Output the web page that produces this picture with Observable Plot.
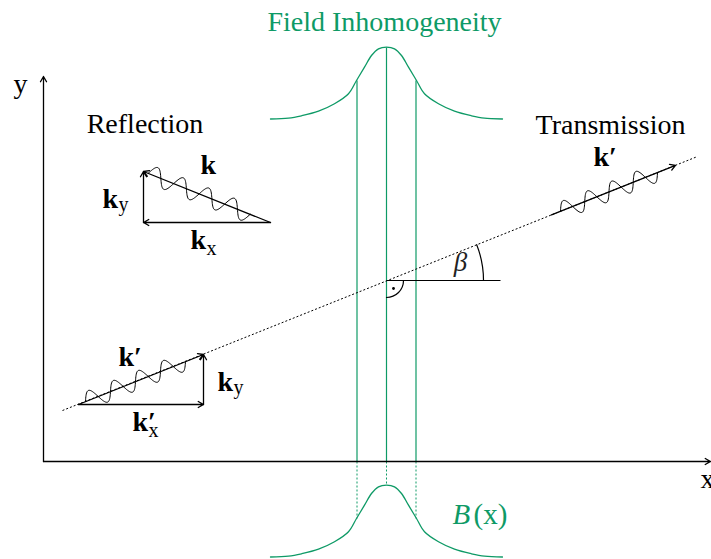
<!DOCTYPE html>
<html><head><meta charset="utf-8">
<script src="https://cdn.jsdelivr.net/npm/d3@7"></script>
<script src="https://cdn.jsdelivr.net/npm/@observablehq/plot@0.6"></script>
<style>body{margin:0;background:#fff}</style>
</head><body><div id="chart"></div>
<script>
const GREEN = "#0e9a66";
// Diagram coordinates: origin at the axis crossing, y up (units ≈ px)

// Straight black arrows: axes, reflection triangle, incidence triangle, transmitted k'
const arrowX1 = [0, 0, 227, 227, 100, 35, 35, 160, 508];
const arrowY1 = [0, 0, 239, 239, 239, 57, 57, 57, 246.6];
const arrowX2 = [667, 0, 100, 100, 100, 160, 160, 160, 632];
const arrowY2 = [0, 385, 290, 239, 290, 107, 57, 107, 296.2];

// Dotted propagation line
const rayX = [19, 654];
const rayY = [51, 305];

// Horizontal reference at the vertex
const vertex = [343, 181];
const horizX = [343, 457];

// Angle arcs: beta arc and right-angle arc (start, end, bend in degrees)
const betaArc = {x1: 433.2, y1: 216.8, x2: 440, y2: 181};
const betaBend = 10.8;
const rightArc = {x1: 360, y1: 181, x2: 343, y2: 164};
const rightBend = 45;

// Wave packets along the k vectors: start, end, periods, amplitude
const waveX1 = [104.6, 42, 517];
const waveY1 = [288.1, 60.2, 250.2];
const waveX2 = [206.7, 142, 614];
const waveY2 = [247.2, 100.2, 289];
const wavePeriods = [4, 4, 4];
const waveAmp = [9, 9, 9];

// Field profile B(x) (offset from centre, height)
const profileDx = [-116,-98,-85,-68,-52,-38,-30,-22,-15,-8,0,8,15,22,30,38,52,68,85,98,116];
const profileH  = [0,0.8,3.2,7.8,15.2,25.2,38.5,51.8,63.5,70.2,71.8,70.2,63.5,51.8,38.5,25.2,15.2,7.8,3.2,0.8,0];
const profileCenter = 343;
const profileBaselines = [342.5, -95.5]; // upper sketch, lower B(x) plot

// Green vertical markers
const markerX = [313.5, 343, 372.5];
const markerTop = [381, 414, 381];
const markerBottom = [-57, -24, -57];

// Labels
const plainText = ["Reflection", "Transmission", "y", "x"];
const plainX = [101.5, 567, -23, 664];
const plainY = [329, 328, 369, -26];

const boldText = ["k", "k", "k", "k′", "k", "k′", "k′"];
const boldX = [157, 59, 147, 75, 174, 89, 550];
const boldY = [288, 254, 213, 96, 71, 31, 296];

const subText = ["y", "x", "y", "x"];
const subX = [75, 163, 190, 105];
const subY = [251, 207, 68, 25];

const titleText = "Field Inhomogeneity";
const titleX = 341, titleY = 431;
const betaX = 417, betaY = 191;
const bX = 409, bY = -62, parenX = 430;

// ---- build tables ----
const arrows = arrowX1.map((d, i) => ({x1: arrowX1[i], y1: arrowY1[i], x2: arrowX2[i], y2: arrowY2[i]}));
const waves = [];
waveX1.forEach((d, k) => {
  const dx = waveX2[k] - waveX1[k], dy = waveY2[k] - waveY1[k];
  const L = Math.hypot(dx, dy), ux = dx / L, uy = dy / L, nx = -uy, ny = ux;
  const N = 160;
  for (let j = 0; j <= N; j++) {
    const t = j / N, s = Math.sin(2 * Math.PI * wavePeriods[k] * t) * waveAmp[k];
    waves.push({w: k, x: waveX1[k] + dx * t + nx * s, y: waveY1[k] + dy * t + ny * s});
  }
});
const profiles = [];
profileBaselines.forEach((b, k) => profileDx.forEach((dx, i) => profiles.push({c: k, x: profileCenter + dx, y: b + profileH[i]})));
const markers = markerX.map((x, i) => ({x, top: markerTop[i], bottom: markerBottom[i]}));
const plain = plainText.map((t, i) => ({t, x: plainX[i], y: plainY[i]}));
const bold = boldText.map((t, i) => ({t, x: boldX[i], y: boldY[i]}));
const subs = subText.map((t, i) => ({t, x: subX[i], y: subY[i]}));

const font = "'Liberation Serif', serif";
const chart = Plot.plot({
  width: 711, height: 559, margin: 0,
  x: {domain: [-43, 668], axis: null},
  y: {domain: [-98, 461], axis: null},
  style: {fontFamily: font, background: "white"},
  marks: [
    // green field lines
    Plot.link(markers, {x1: "x", x2: "x", y1: 0, y2: "top", stroke: GREEN, strokeWidth: 1.2}),
    Plot.link(markers, {x1: "x", x2: "x", y1: 0, y2: "bottom", stroke: GREEN, strokeWidth: 1, strokeDasharray: "2,2"}),
    Plot.line(profiles, {x: "x", y: "y", z: "c", curve: "catmull-rom", stroke: GREEN, strokeWidth: 1.3}),
    // dotted ray and horizontal
    Plot.link([0], {x1: rayX[0], y1: rayY[0], x2: rayX[1], y2: rayY[1], stroke: "black", strokeWidth: 1, strokeDasharray: "2,2"}),
    Plot.link([0], {x1: horizX[0], x2: horizX[1], y1: vertex[1], y2: vertex[1], stroke: "black", strokeWidth: 1.2}),
    Plot.arrow([betaArc], {x1: "x1", y1: "y1", x2: "x2", y2: "y2", bend: betaBend, headLength: 0, stroke: "black", strokeWidth: 1.2}),
    Plot.arrow([rightArc], {x1: "x1", y1: "y1", x2: "x2", y2: "y2", bend: rightBend, headLength: 0, stroke: "black", strokeWidth: 1.2}),
    Plot.dot([0], {x: vertex[0] + 7, y: vertex[1] - 8, r: 1.4, fill: "black"}),
    // arrows
    Plot.arrow(arrows, {x1: "x1", y1: "y1", x2: "x2", y2: "y2", stroke: "black", strokeWidth: 1.3, headLength: 7, headAngle: 60}),
    // waves
    Plot.line(waves, {x: "x", y: "y", z: "w", stroke: "black", strokeWidth: 1, curve: "linear"}),
    // text
    Plot.text(plain, {x: "x", y: "y", text: "t", fontSize: 28, lineAnchor: "bottom", fill: "black"}),
    Plot.text(bold, {x: "x", y: "y", text: "t", fontSize: 28, fontWeight: "bold", textAnchor: "start", lineAnchor: "bottom", fill: "black"}),
    Plot.text(subs, {x: "x", y: "y", text: "t", fontSize: 20, textAnchor: "start", lineAnchor: "bottom", fill: "black"}),
    Plot.text([titleText], {x: titleX, y: titleY, text: (d) => d, fontSize: 28, lineAnchor: "bottom", fill: GREEN}),
    Plot.text(["β"], {x: betaX, y: betaY, text: (d) => d, fontSize: 27, fontStyle: "italic", lineAnchor: "bottom", fill: "#222"}),
    Plot.text(["B"], {x: bX, y: bY, text: (d) => d, fontSize: 29, fontStyle: "italic", textAnchor: "start", lineAnchor: "bottom", fill: GREEN}),
    Plot.text(["(x)"], {x: parenX, y: bY, text: (d) => d, fontSize: 29, textAnchor: "start", lineAnchor: "bottom", fill: GREEN})
  ]
});
document.getElementById("chart").append(chart);
</script>
</body></html>
